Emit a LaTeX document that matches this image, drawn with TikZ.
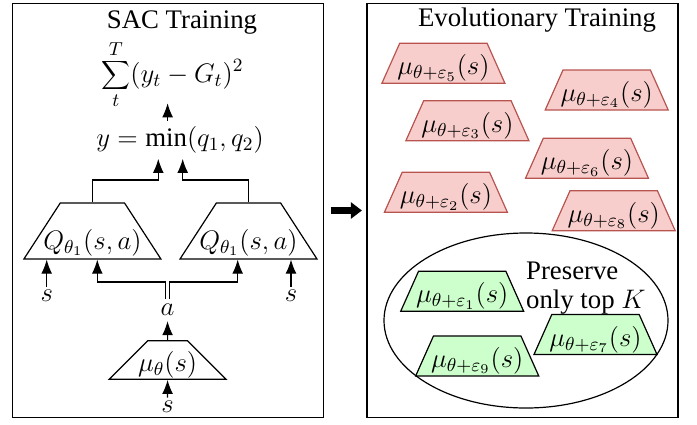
\documentclass[tikz,border=0pt]{standalone}
\usepackage{fix-cm}
\usepackage{fontspec}
\setmainfont{Liberation Serif}
\usepackage{tikz}
\usetikzlibrary{shapes.geometric, arrows.meta}
\definecolor{NoiseFill}{RGB}{248, 206, 204}
\definecolor{NoiseBorder}{RGB}{184, 84, 80}
\definecolor{EliteFill}{RGB}{204, 255, 204}

\newcommand{\netlabel}[1]{\makebox[0pt]{$#1$}}

\tikzset{
  panel/.style={draw, line width=0.7pt, minimum width=155.5pt, minimum height=207pt, inner sep=0pt},
  net/.style={trapezium, draw, line width=0.6pt, trapezium stretches body=true, inner sep=0pt},
  critic/.style={net, minimum width=68.5pt, minimum height=28pt, text height=23pt, text depth=5pt,
                 trapezium left angle=57, trapezium right angle=57},
  actor/.style={net, minimum width=58.5pt, minimum height=19.3pt, text height=15.3pt, text depth=4pt,
                trapezium left angle=45, trapezium right angle=45},
  noisy/.style={net, minimum width=61.5pt, minimum height=20pt, text height=15.8pt, text depth=4.2pt,
                trapezium left angle=66, trapezium right angle=66},
  dropped/.style={noisy, fill=NoiseFill, draw=NoiseBorder},
  kept/.style={noisy, fill=EliteFill},
  flow/.style={-{Latex[length=7pt,width=5.4pt]}, line width=0.55pt},
}

\begin{document}
\begin{tikzpicture}[x=0.5pt, y=-0.5pt, font=\fontsize{13.4}{15}\selectfont]
    \useasboundingbox (0,0) rectangle (697,424);

    % panels
    \node[panel] (sac) at (167.8,210.5) {};
    \node[panel] (evo) at (522.5,210.5) {};
    \node[anchor=base] (sactitle) at (182,28.3) {SAC Training};
    \node[anchor=base] (evotitle) at (537,26.7) {Evolutionary Training};
    \draw[-{Triangle[length=5.5pt,width=8pt]}, line width=3.6pt, shorten <=3.3pt, shorten >=2.2pt]
      (sac.east) -- (sac.east -| evo.west);

    % SAC side
    \node[inner sep=0pt] (loss) at (172.5,75) {$\displaystyle\sum_{t}^{T}(y_t-G_t)^2$};
    \node[inner sep=2.5pt] (ymin) at (180,140) {$y=\min(q_1,q_2)$};
    \node[critic] (q1) at (92.4,231) {\netlabel{Q_{\theta_1}(s,a)}};
    \node[critic] (q2) at (248.5,231) {\netlabel{Q_{\theta_1}(s,a)}};
    \node[inner sep=1.5pt] (s1) at (46.7,296) {$s$};
    \node[inner sep=1.5pt] (s2) at (291,296) {$s$};
    \node[inner sep=2.5pt] (a) at (167.5,310) {$a$};
    \node[actor] (mu) at (167.6,360) {\netlabel{\mu_\theta(s)}};
    \node[inner sep=1.5pt] (s3) at (167.5,406.7) {$s$};

    \coordinate (q1in) at ([xshift=2.45pt]q1.south);
    \coordinate (q2in) at ([xshift=-5.4pt]q2.south);
    \coordinate (split) at (167,282);
    \coordinate (jn1) at (158.3,180);
    \coordinate (jn2) at (182.7,180);

    \draw[flow] (s3) -- (mu.south);
    \draw[flow] (mu.north) -- (a.south);
    \draw[flow] ([xshift=-1pt]a.north) |- (q1in |- split) -- (q1in);
    \draw[flow] ([xshift=1pt]a.north) |- (q2in |- split) -- (q2in);
    \draw[flow] (s1) -- (s1 |- q1.south);
    \draw[flow] (s2) -- (s2 |- q2.south);
    \draw[flow] (q1.north) |- (jn1) -- (jn1 |- ymin.south);
    \draw[flow] (q2.north) |- (jn2) -- (jn2 |- ymin.south);
    \draw[flow, shorten >=-3pt] (ymin.north -| mu.north) -- (loss.south -| mu.north);

    % evolutionary side
    \node[dropped] (e5) at (443.4,63.3) {\netlabel{\mu_{\theta+\varepsilon_5}(s)}};
    \node[dropped] (e4) at (606.7,90) {\netlabel{\mu_{\theta+\varepsilon_4}(s)}};
    \node[dropped] (e3) at (467.4,120.7) {\netlabel{\mu_{\theta+\varepsilon_3}(s)}};
    \node[dropped] (e6) at (587,158.3) {\netlabel{\mu_{\theta+\varepsilon_6}(s)}};
    \node[dropped] (e2) at (445.9,192.3) {\netlabel{\mu_{\theta+\varepsilon_2}(s)}};
    \node[dropped] (e8) at (613.7,210.7) {\netlabel{\mu_{\theta+\varepsilon_8}(s)}};

    \node[ellipse, draw, line width=0.6pt, minimum width=142pt, minimum height=87.5pt] (elite) at (526,320.5) {};
    \node[align=left, anchor=west, inner sep=0pt, font=\fontsize{13.4}{14.4}\selectfont] (keep) at (525.7,288)
      {Preserve\\only top $K$};
    \node[kept] (e1) at (462.2,291.3) {\netlabel{\mu_{\theta+\varepsilon_1}(s)}};
    \node[kept] (e7) at (595.5,334.5) {\netlabel{\mu_{\theta+\varepsilon_7}(s)}};
    \node[kept] (e9) at (477.2,355.9) {\netlabel{\mu_{\theta+\varepsilon_9}(s)}};
  \end{tikzpicture}
\end{document}
